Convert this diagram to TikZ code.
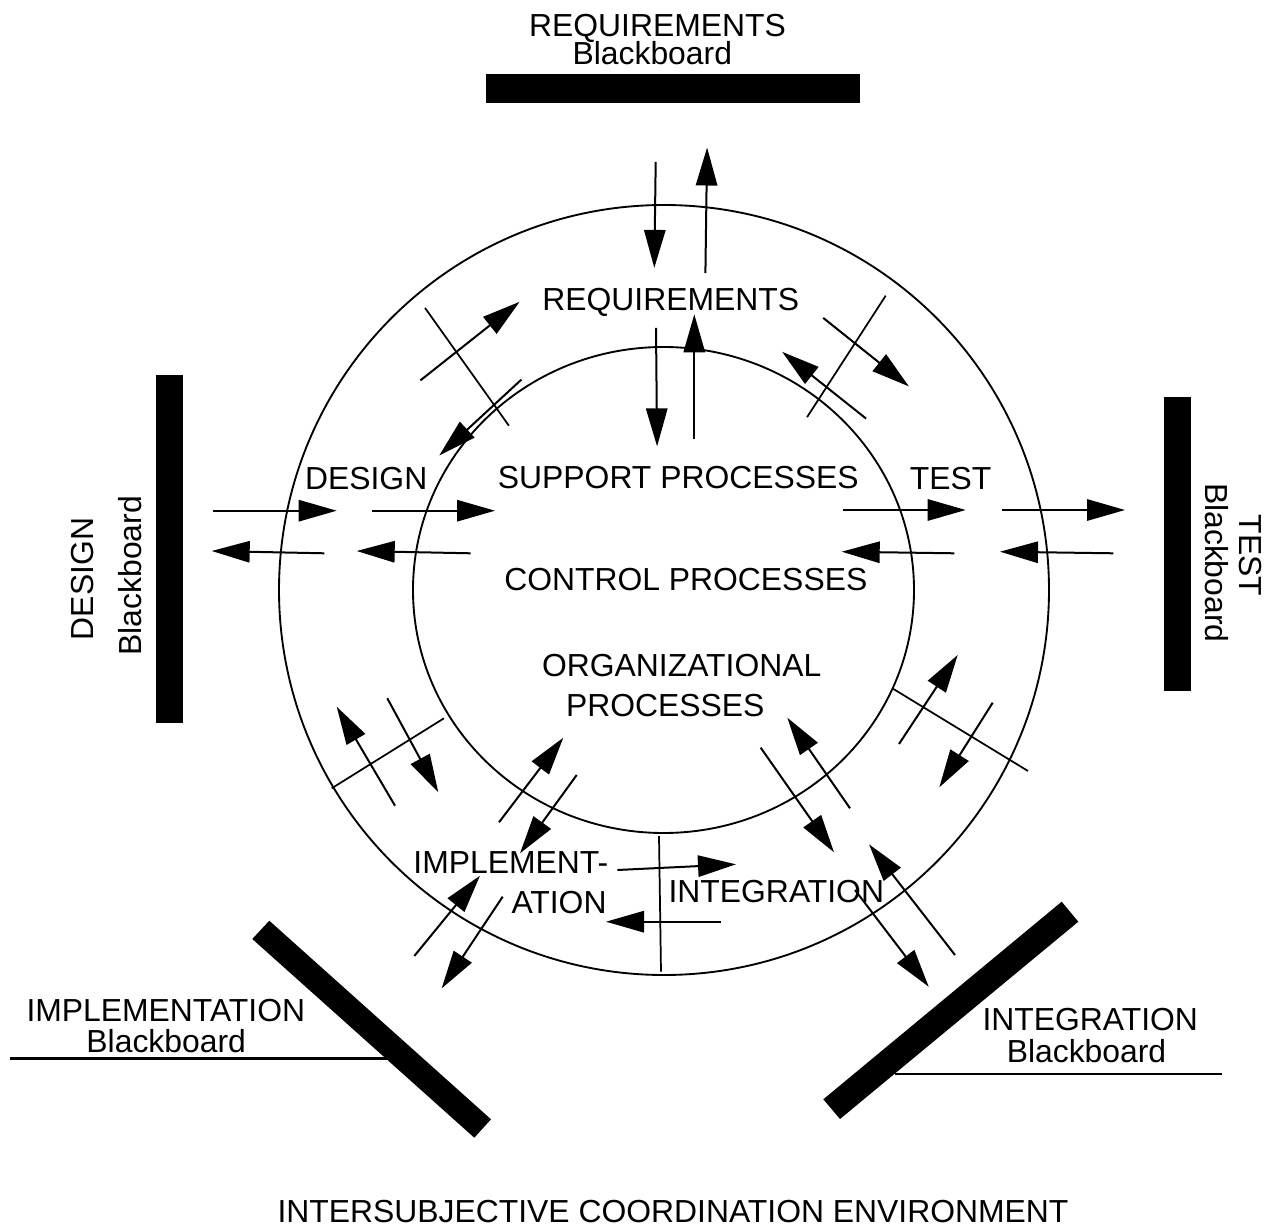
\documentclass[tikz,border=0pt]{standalone}
\usepackage{fontspec}
\setmainfont{Liberation Sans}
\usetikzlibrary{arrows.meta}
\tikzset{
  lbl/.style={anchor=base, inner sep=0pt, font=\fontsize{23.9pt}{24pt}\selectfont},
  flow/.style={line width=1.5pt, -{Triangle[length=28.5pt,width=16pt]}},
  divider/.style={line width=1.3pt},
  ring/.style={line width=1.4pt},
  board/.style={fill=black, draw=none},
  leader/.style={line width=2pt}
}
\begin{document}
\begin{tikzpicture}[x=0.75pt,y=-0.75pt]
\useasboundingbox (0,0) rectangle (1268,1230);
% rings
\draw[ring] (664,590) circle [radius=385];
\draw[ring] (663.5,590) ellipse [x radius=250.5, y radius=243];
% dividers
\draw[divider] (425,307.9) -- (508.9,425.7);
\draw[divider] (885.7,295.7) -- (807.1,417.1);
\draw[divider] (331.7,788.3) -- (444,718.3);
\draw[divider] (892.3,688.3) -- (1028,771);
\draw[divider] (659,836) -- (661,971.7);
% blackboards
\fill[board] (486,74) rectangle (860,103);
\fill[board] (156,375) rectangle (182.7,722.7);
\fill[board] (1164.3,396.7) rectangle (1190.7,690.7);
\fill[board] (252.3,939) -- (269.3,920.7) -- (491,1119.3) -- (474.3,1137.7) -- cycle;
\fill[board] (1061.7,901.7) -- (1078.3,921.7) -- (840,1119) -- (823.3,1099.3) -- cycle;
\draw[leader] (10,1058.3) -- (386.7,1058.3);
\draw[leader] (895,1074) -- (1221.7,1074);
% arrows: requirements
\draw[flow] (655.7,161.8) -- (654.3,267.9);
\draw[flow] (705.4,273.2) -- (707.1,147.5);
\draw[flow] (656,327.9) -- (657.1,446.4);
\draw[flow] (694.3,438.6) -- (694.3,314.3);
% design / requirements
\draw[flow] (420.4,380.4) -- (519.6,301.8);
\draw[flow] (521.4,379.6) -- (439.3,455.4);
% requirements / test
\draw[flow] (823.2,317.9) -- (908.9,386.4);
\draw[flow] (866.1,418.6) -- (782.1,351.8);
% design
\draw[flow] (213.3,510.7) -- (336.7,510.7);
\draw[flow] (372.3,510.7) -- (495,510.7);
\draw[flow] (324.3,553.3) -- (211.7,551);
\draw[flow] (470.7,553.3) -- (356.7,551);
% test
\draw[flow] (843.3,510) -- (965.7,510);
\draw[flow] (1002.3,510) -- (1125,510);
\draw[flow] (954.3,553.3) -- (841.7,551.7);
\draw[flow] (1113.3,553.3) -- (1000,551.7);
% test / integration
\draw[flow] (899,744) -- (957.7,655);
\draw[flow] (992.7,702.7) -- (939.3,787.3);
% organizational / integration
\draw[flow] (850,808.3) -- (787.3,717.7);
\draw[flow] (760.7,747.7) -- (834,852.3);
% integration / blackboard
\draw[flow] (955,955) -- (869,844.3);
\draw[flow] (855,890) -- (928.7,986.7);
% implementation / integration
\draw[flow] (617.3,870) -- (736,864.3);
\draw[flow] (720.7,921.7) -- (606,921.7);
% design / implementation
\draw[flow] (395,805.7) -- (336.7,706.7);
\draw[flow] (387.3,698.3) -- (438.3,792.3);
% organizational / implementation
\draw[flow] (499,822.3) -- (563.3,737.7);
\draw[flow] (576.7,775) -- (520,853.3);
% implementation / blackboard
\draw[flow] (414.3,956) -- (480,875.7);
\draw[flow] (502.7,896.7) -- (441.7,988.3);
% labels
\node[lbl] (reqbb1) at (657.5,36.8) {REQUIREMENTS};
\node[lbl] (reqbb2) at (652.3,64.3) {Blackboard};
\node[lbl, rotate=90] (desbb1) at (93.3,579) {DESIGN};
\node[lbl, rotate=90] (desbb2) at (141.7,575.8) {Blackboard};
\node[lbl, rotate=-90] (testbb1) at (1239.3,555.5) {TEST};
\node[lbl, rotate=-90] (testbb2) at (1205,562.8) {Blackboard};
\node[lbl] (implbb1) at (165.8,1021) {IMPLEMENTATION};
\node[lbl] (implbb2) at (166.2,1052.7) {Blackboard};
\node[lbl] (intbb1) at (1090.2,1030) {INTEGRATION};
\node[lbl] (intbb2) at (1086.5,1062.3) {Blackboard};
\node[lbl] (req) at (670.7,310.7) {REQUIREMENTS};
\node[lbl] (des) at (366.2,490) {DESIGN};
\node[lbl] (test) at (950.5,490) {TEST};
\node[lbl] (impl1) at (510.8,873.3) {IMPLEMENT-};
\node[lbl] (impl2) at (559,913.3) {ATION};
\node[lbl] (integ) at (776.3,902.3) {INTEGRATION};
\node[lbl] (supp) at (678.3,488.3) {SUPPORT PROCESSES};
\node[lbl] (ctrl) at (685.8,590) {CONTROL PROCESSES};
\node[lbl] (org1) at (681.7,676.7) {ORGANIZATIONAL};
\node[lbl] (org2) at (665.3,716) {PROCESSES};
\node[lbl] (env) at (673,1222.5) {INTERSUBJECTIVE COORDINATION ENVIRONMENT};
\end{tikzpicture}
\end{document}
